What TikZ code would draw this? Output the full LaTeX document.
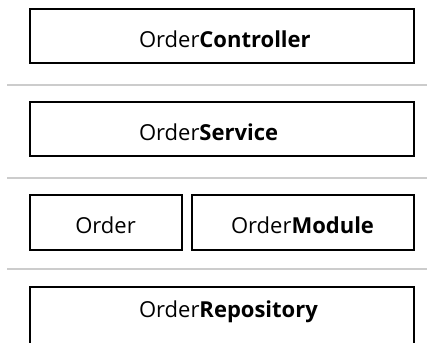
\documentclass[tikz,border=0pt]{standalone}
\usepackage{fontspec}
\setmainfont{Open Sans}
\usetikzlibrary{positioning}
\tikzset{layer/.style = {draw, line width = 2, rectangle, inner sep = 4,
                         text height = 26, text depth = 4, font = \fontsize{22}{26}\selectfont}}
\tikzset{sep/.style = {draw = black!20, line width = 2}}
\newcommand{\layername}[1]{\makebox[165.5pt][l]{#1}}

\begin{document}
\begin{tikzpicture}[x = 1pt, y = -1pt]
      \useasboundingbox (0, 0) rectangle (427, 342);
      \clip (0, 0) rectangle (427, 342);

      \node [layer, minimum width = 384, minimum height = 54] (ctrl) at (221.75, 36.5) {\layername{Order\textbf{Controller}}};
      \draw [sep] (7, 84.5) -- (427, 84.5);

      \node [layer, minimum width = 384, minimum height = 54] (svc) at (221.75, 129.2) {\layername{Order\textbf{Service}}};
      \draw [sep] (7, 177.5) -- (427, 177.5);

      \node [layer, minimum width = 152, minimum height = 55] (ord) at (105.5, 222) {Order};
      \node [layer, minimum width = 222, minimum height = 55] (mod) at (302.5, 222) {Order\textbf{Module}};
      \draw [sep] (7, 269) -- (427, 269);

      \node [layer, minimum width = 384, minimum height = 73, text depth = 38] (repo) at (221.75, 323.5) {\layername{Order\textbf{Repository}}};
    \end{tikzpicture}
\end{document}
